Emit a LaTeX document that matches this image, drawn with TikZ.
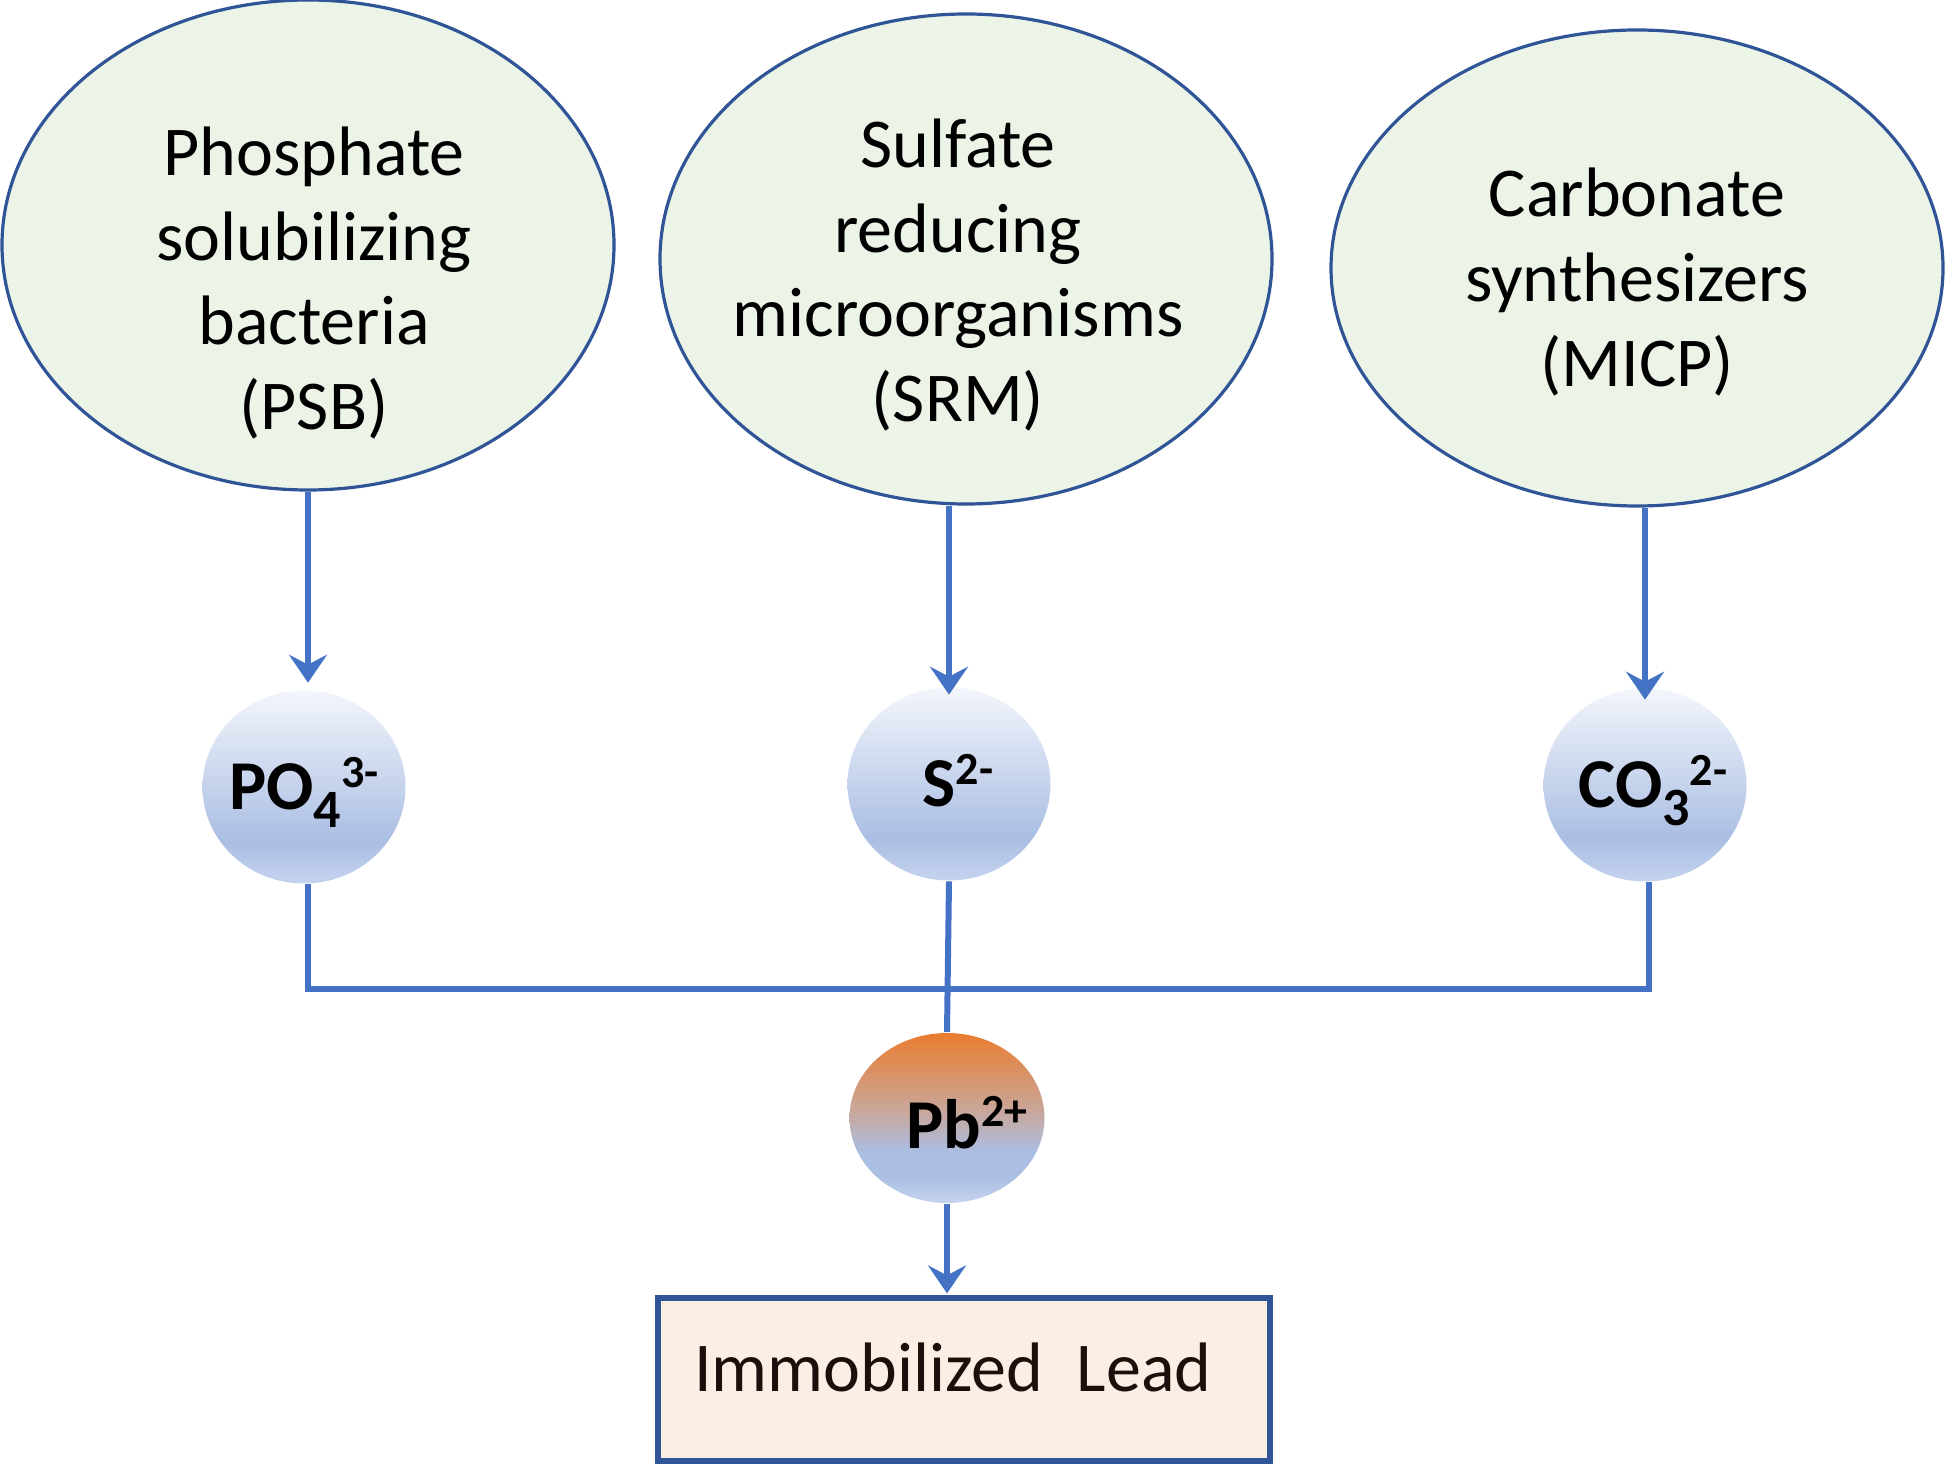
\documentclass[tikz,border=0pt]{standalone}
\usepackage{fontspec}
\setmainfont{Carlito}
\usepackage{tikz}
\usetikzlibrary{shapes.geometric}
\usetikzlibrary{arrows.meta}
\definecolor{mb}{RGB}{47, 85, 151}
\definecolor{ab}{RGB}{68, 114, 196}
\definecolor{eg}{RGB}{236, 244, 232}
\definecolor{lp}{RGB}{252, 237, 229}
\definecolor{tx}{RGB}{26, 15, 10}
\definecolor{ionlo}{RGB}{197, 211, 238}
\definecolor{iondk}{RGB}{170, 190, 227}
\definecolor{ionhi}{RGB}{243, 246, 251}
\definecolor{pbmid}{RGB}{201, 167, 155}
\definecolor{pbhi}{RGB}{234, 124, 47}
\pgfdeclareverticalshading{ionshade}{100bp}{color(0bp)=(ionlo); color(25bp)=(ionlo); color(36bp)=(iondk); color(75bp)=(ionhi); color(100bp)=(ionhi)}
\pgfdeclareverticalshading{pbshade}{100bp}{color(0bp)=(ionlo); color(25bp)=(ionlo); color(33bp)=(iondk); color(40bp)=(iondk); color(52bp)=(pbmid); color(75bp)=(pbhi); color(100bp)=(pbhi)}
\newcommand{\isub}[1]{\raisebox{-4.5pt}{\fontsize{13.5}{13.5}\selectfont #1}}
\newcommand{\isup}[1]{\raisebox{5.5pt}{\fontsize{11.5}{11.5}\selectfont #1}}
\newcommand{\ionlabel}[2][0pt]{\makebox[0pt]{\hspace*{#1}#2}}

\begin{document}
\begin{tikzpicture}[x=0.25pt, y=-0.25pt,
  every node/.style={inner sep=0pt},
  microbe/.style={ellipse, draw=mb, line width=0.8pt, fill=eg, minimum width=153pt, minimum height=122.5pt},
  microbetext/.style={align=center, font=\fontsize{17.5}{21.2}\selectfont, text=black},
  ion/.style={ellipse, shading=ionshade, minimum width=50.75pt, minimum height=48.25pt, text height=11.3pt, text depth=0pt, font=\fontsize{17.5}{21}\selectfont\bfseries},
  feed/.style={-{Stealth[length=7pt, width=9.5pt, inset=2.5pt]}, line width=1.5pt, color=ab},
  link/.style={line width=1.5pt, color=ab}]
\useasboundingbox (0,0) rectangle (1946,1464);
% microorganisms
\node (psb) [microbe] at (308, 245) {};
\node (srm) [microbe] at (966, 259) {};
\node (micp) [microbe, minimum height=119pt] at (1637, 268) {};
\node (psbtext) [microbetext] at (314, 283) {Phosphate\\solubilizing\\bacteria\\(PSB)};
\node (srmtext) [microbetext] at (958, 275) {Sulfate\\reducing\\microorganisms\\(SRM)};
\node (micptext) [microbetext] at (1637, 282) {Carbonate\\synthesizers\\(MICP)};
% ions
\node (po4) [ion] at (304, 787) {\ionlabel{PO\isub{4}\isup{3-}}};
\node (s2) [ion] at (949, 784) {\ionlabel[4.5pt]{S\isup{2-}}};
\node (co3) [ion] at (1645, 785) {\ionlabel[4pt]{CO\isub{3}\isup{2-}}};
\node (pb) [ion, shading=pbshade, minimum width=48.75pt, minimum height=42.5pt, text height=15.2pt] at (947, 1118) {\ionlabel[10pt]{Pb\isup{2+}}};
\node (lead) [draw=mb, line width=1.3pt, fill=lp, minimum width=153pt, minimum height=40.75pt, text depth=6pt, font=\fontsize{17.5}{21}\selectfont, text=tx] at (964, 1379.5) {Immobilized\hspace{8.5pt}Lead\hspace*{5.6pt}};
\coordinate (bus) at (947, 989);
% connectors
\draw [feed, shorten >=1.75pt] (psb.south) -- (psb.south |- po4.north);
\draw [feed, shorten >=-2pt] (srm.south -| s2.north) -- (s2.north);
\draw [feed, shorten >=-3pt] (micp.south -| co3.north) -- (co3.north);
\draw [link] (psb.south |- po4.south) |- (bus) -| ([xshift=1pt]co3.south);
\draw [link] (s2.south) -- (pb.north);
\draw [feed, shorten >=0.5pt] (pb.south) -- (pb.south |- lead.north);
\end{tikzpicture}
\end{document}
